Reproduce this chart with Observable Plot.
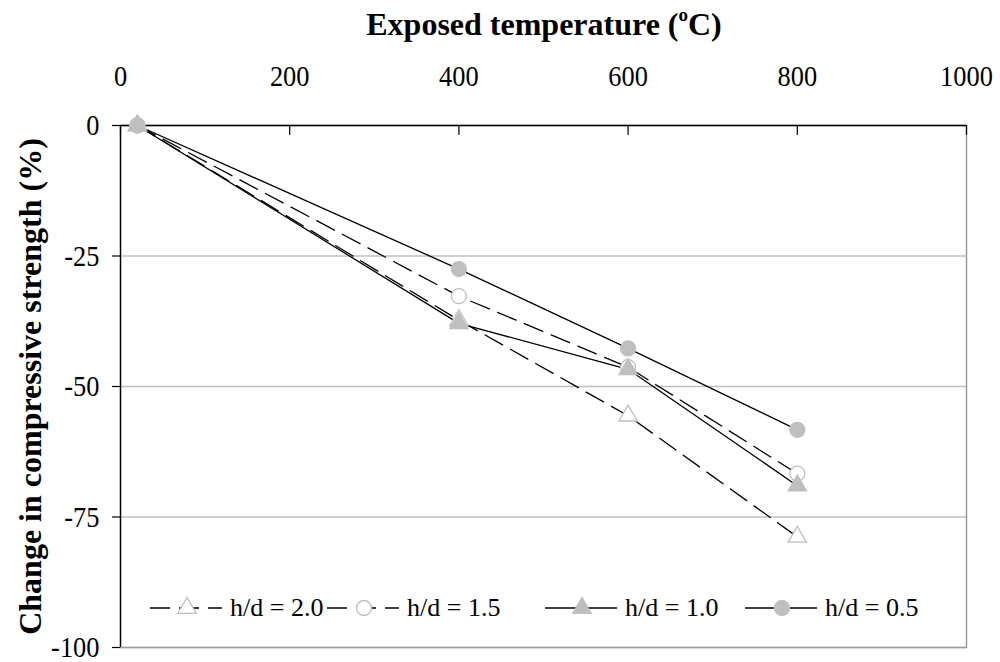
<!DOCTYPE html>
<html><head><meta charset="utf-8">
<script src="https://cdn.jsdelivr.net/npm/d3@7"></script>
<script src="https://cdn.jsdelivr.net/npm/@observablehq/plot@0.6"></script>
<style>
body{margin:0;background:#fff;}
#chart{position:relative;width:1000px;height:662px;font-family:"Liberation Serif","Times New Roman",serif;}
#title{position:absolute;left:0;width:1088px;top:6px;text-align:center;font-weight:bold;font-size:32px;color:#000;}
#title sup{font-size:19px;position:relative;top:-2px;}
#legend{position:absolute;left:0;top:592px;width:1000px;height:32px;font-size:26px;}
.entry{position:absolute;top:0;height:32px;display:flex;align-items:center;white-space:nowrap;}
.entry svg{margin-right:8px;flex:none;}
</style></head><body><div id="chart"><div id="title">Exposed temperature (<sup>o</sup>C)</div><div id="legend"></div></div>
<script>
const temperatures = [20, 400, 600, 800];
const hd20 = [0, -37.3, -55.6, -78.8];
const hd15 = [0, -32.7, -46.3, -66.7];
const hd10 = [0, -37.9, -46.7, -69.0];
const hd05 = [0, -27.5, -42.7, -58.3];
const seriesNames = ["h/d = 2.0", "h/d = 1.5", "h/d = 1.0", "h/d = 0.5"];
const xTicks = [0, 200, 400, 600, 800, 1000];
const yTicks = [0, -25, -50, -75, -100];
const gridValues = [-25, -50, -75, -100];
const yLabel = "Change in compressive strength (%)";

const seriesValues = [hd20, hd15, hd10, hd05];
const styles = [
  {dash: "20,9", symbol: "triangle", fill: "white", r: 6.8},
  {dash: "20,9", symbol: "circle", fill: "white", r: 7.5},
  {dash: null, symbol: "triangle", fill: "#bfbfbf", r: 6.8},
  {dash: null, symbol: "circle", fill: "#bfbfbf", r: 7.5}
];
const rows = seriesNames.map((name, i) => temperatures.map((t, j) => ({series: name, t, v: seriesValues[i][j]})));

const fmt = d => String(d);
const marks = [
  Plot.ruleY(gridValues, {stroke: "#c0c0c0", strokeWidth: 1.5}),
  Plot.frame({stroke: "#9a9a9a", strokeWidth: 1.5}),
  Plot.ruleX([0], {stroke: "black", strokeWidth: 1.3}),
  Plot.ruleY([0], {stroke: "black", strokeWidth: 1.3}),
  Plot.vector(xTicks, {x: d => d, y: 0, length: 9, rotate: 180, anchor: "start", stroke: "black", strokeWidth: 1.2,
    shape: {draw(context, l) { context.moveTo(0, 0); context.lineTo(0, -l); }}}),
  Plot.axisX(xTicks, {anchor: "top", tickSize: 0, tickPadding: 40, fontSize: 30, label: null, tickFormat: fmt}),
  Plot.axisY(yTicks, {anchor: "left", tickSize: 8, tickPadding: 13, fontSize: 30, label: null, strokeWidth: 1.2, tickFormat: fmt}),
  Plot.text([yLabel], {text: d => d, frameAnchor: "left", textAnchor: "middle", dx: -90, rotate: -90, fontSize: 32, fontWeight: "bold", fill: "black"})
];
rows.forEach((data, i) => {
  marks.push(Plot.line(data, {x: "t", y: "v", stroke: "black", strokeWidth: 1.3, strokeDasharray: styles[i].dash}));
});
rows.forEach((data, i) => {
  marks.push(Plot.dot(data, {x: "t", y: "v", symbol: styles[i].symbol, r: styles[i].r, fill: styles[i].fill, stroke: "#bfbfbf", strokeWidth: 1.3}));
});

const plot = Plot.plot({
  width: 1000, height: 662,
  marginLeft: 120, marginRight: 34, marginTop: 125, marginBottom: 15,
  style: {fontFamily: "'Liberation Serif', 'Times New Roman', serif", color: "black", background: "white"},
  x: {domain: [0, 1000]},
  y: {domain: [-100, 0]},
  marks
});
document.getElementById("chart").appendChild(plot);

// narrow (condensed) look of the tick labels
plot.querySelectorAll('g[aria-label="x-axis tick label"] text, g[aria-label="y-axis tick label"] text').forEach(t => {
  const tr = t.getAttribute("transform");
  if (tr) {
    t.setAttribute("transform", tr + " scale(0.88,1)");
  } else {
    const x = +(t.getAttribute("x") || 0), y = +(t.getAttribute("y") || 0);
    t.removeAttribute("x"); t.removeAttribute("y");
    t.setAttribute("transform", `translate(${x},${y}) scale(0.88,1)`);
  }
});

// legend
const legend = document.getElementById("legend");
const lefts = [150, 327, 545, 745];
seriesNames.forEach((name, i) => {
  const st = styles[i];
  const div = document.createElement("div");
  div.className = "entry";
  div.style.left = lefts[i] + "px";
  const w = 72, h = 32;
  const sym = d3.symbol(st.symbol === "triangle" ? d3.symbolTriangle : d3.symbolCircle, Math.PI * st.r * st.r)();
  div.innerHTML = `<svg width="${w}" height="${h}"><line x1="0" x2="${w}" y1="${h/2}" y2="${h/2}" stroke="black" stroke-width="1.3" ${st.dash ? `stroke-dasharray="${st.dash}"` : ""}/><path d="${sym}" transform="translate(37,${h/2})" fill="${st.fill}" stroke="#bfbfbf" stroke-width="1.3"/></svg><span>${name}</span>`;
  legend.appendChild(div);
});
</script>
</body></html>
